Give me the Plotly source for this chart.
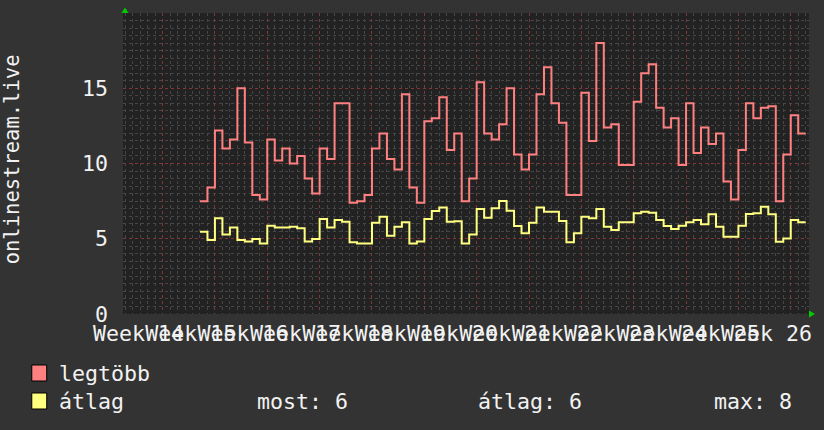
import plotly.graph_objects as go

# ---- data (daily values, day index relative to first major week line) ----
days = list(range(5, 86))
legtobb = [7.5, 8.4, 12.2, 11.0, 11.6, 15.0, 11.4, 7.9, 7.6, 11.6,
           10.2, 11.0, 10.0, 10.5, 9.0, 8.0, 11.0, 10.3, 14.0, 14.0,
           7.4, 7.5, 7.9, 11.0, 12.0, 10.3, 9.6, 14.6, 8.4, 7.4,
           12.8, 13.0, 14.4, 10.9, 12.0, 7.5, 9.0, 15.4, 12.0, 11.6,
           12.6, 15.0, 10.6, 9.6, 10.6, 14.6, 16.4, 14.0, 12.7, 7.9,
           7.9, 14.7, 11.5, 18.0, 12.4, 12.6, 9.9, 9.9, 14.1, 16.0,
           16.6, 13.7, 12.4, 13.0, 9.9, 14.0, 10.7, 12.4, 11.3, 12.0,
           8.8, 7.6, 10.9, 14.0, 13.0, 13.7, 13.8, 7.5, 10.6, 13.2, 12.0]
atlag = [5.47, 4.92, 6.36, 5.29, 5.74, 4.92, 4.81, 4.98, 4.69, 5.87,
         5.74, 5.74, 5.80, 5.69, 4.81, 4.98, 6.31, 5.74, 6.25, 6.13,
         4.76, 4.69, 4.69, 6.07, 6.47, 5.20, 5.80, 6.09, 4.69, 4.81,
         6.31, 6.84, 7.07, 6.13, 6.16, 4.69, 5.29, 6.98, 6.40, 7.02,
         7.51, 6.86, 5.85, 5.36, 6.07, 7.07, 6.80, 6.80, 6.18, 4.76,
         5.36, 6.47, 6.36, 6.98, 5.80, 5.58, 6.09, 6.09, 6.69, 6.80,
         6.73, 6.25, 5.85, 5.65, 5.87, 6.09, 6.25, 5.96, 6.62, 5.80,
         5.14, 5.14, 5.87, 6.64, 6.69, 7.13, 6.62, 4.80, 5.02, 6.25, 6.09]
week_labels = ["Week 14", "Week 15", "Week 16", "Week 17", "Week 18", "Week 19",
               "Week 20", "Week 21", "Week 22", "Week 23", "Week 24", "Week 25", "Week 26"]
y_ticks = [0, 5, 10, 15]
series_names = ["legtöbb", "átlag"]
series_colors = ["#FF8080", "#FFFF80"]
stats = ["most: 6", "átlag: 6", "max: 8"]

# ---- geometry ----
W, H = 824, 430
L, R, T, B = 123, 811, 13, 314
PW, PH = R - L, B - T
PX_PER_DAY = 7.5
X0PX = 162.7
xr = [(L - X0PX) / PX_PER_DAY, (R - X0PX) / PX_PER_DAY]
label_pos = [7 * i - 3.23 for i in range(len(week_labels))]

def px(x):
    return (x - L) / PW

def py(y):
    return (B - y) / PH

FONT = "DejaVu Sans Mono"
FS = 21.6
TXT = "#F2F2F2"
PAPER = "#333333"
PLOT = "#222222"
MINOR = "#464646"
MAJOR = "#803838"

fig = go.Figure()
for name, vals, col in zip(series_names, [legtobb, atlag], series_colors):
    xs = days + [days[-1] + 1]
    ys = vals + [vals[-1]]
    fig.add_trace(go.Scatter(x=xs, y=ys, mode="lines", line=dict(shape="hv", color=col, width=2),
                             name=name, hoverinfo="skip", showlegend=False))
# invisible trace for grid axis
fig.add_trace(go.Scatter(x=[xr[0]], y=[0], xaxis="x2", mode="markers",
                         marker=dict(opacity=0), showlegend=False, hoverinfo="skip"))

fig.update_layout(
    width=W, height=H,
    margin=dict(l=L, r=W - R, t=T, b=H - B),
    paper_bgcolor=PAPER, plot_bgcolor=PLOT,
    font=dict(family=FONT, size=FS, color=TXT),
    xaxis=dict(range=xr, tickmode="array", tickvals=label_pos, ticktext=week_labels,
               showgrid=False, zeroline=False, showline=False, ticks="",
               tickangle=0, ticklabeloverflow="allow",
               ticklabelstandoff=4, tickfont=dict(family=FONT, size=FS, color=TXT),
               fixedrange=True),
    xaxis2=dict(range=xr, overlaying="x", anchor="y", tick0=0, dtick=7,
                showgrid=True, gridcolor=MAJOR, griddash="dot", gridwidth=1,
                showticklabels=False, ticks="", zeroline=False, showline=False,
                minor=dict(dtick=1, tick0=0, showgrid=True, gridcolor=MINOR,
                           griddash="dot", gridwidth=1),
                layer="below traces"),
    yaxis=dict(range=[0, 20], tickmode="array", tickvals=y_ticks,
               ticktext=[str(v) for v in y_ticks],
               showgrid=True, gridcolor=MAJOR, griddash="dot", gridwidth=1,
               minor=dict(dtick=0.5, tick0=0, showgrid=True, gridcolor=MINOR,
                          griddash="dot", gridwidth=1),
               zeroline=False, showline=False, ticks="", ticklabelstandoff=14,
               tickfont=dict(family=FONT, size=FS, color=TXT), fixedrange=True),
)

anns = []
# y-axis title
anns.append(dict(text="onlinestream.live", x=px(12), y=py(159), xref="paper", yref="paper",
                 textangle=-90, showarrow=False, xanchor="center", yanchor="middle",
                 font=dict(family=FONT, size=20.5, color=TXT)))
# legend
shapes = []
leg_rows = [373, 401]
for (name, col, cy) in zip(series_names, series_colors, leg_rows):
    shapes.append(dict(type="rect", xref="paper", yref="paper",
                       x0=px(31.5), x1=px(46.5), y0=py(cy - 8), y1=py(cy + 8),
                       fillcolor=col, line=dict(color="#000000", width=1)))
    anns.append(dict(text=name, x=px(57), y=py(cy), xref="paper", yref="paper",
                     showarrow=False, xanchor="left", yanchor="middle",
                     font=dict(family=FONT, size=FS, color=TXT)))
for txt, xpx in zip(stats, [255, 477, 714]):
    anns.append(dict(text=txt, x=px(xpx), y=py(leg_rows[1]), xref="paper", yref="paper",
                     showarrow=False, xanchor="left", yanchor="middle",
                     font=dict(family=FONT, size=FS, color=TXT)))

# green axis arrows
up = "M {} {} L {} {} L {} {} Z".format(px(121.5), py(13), px(128.5), py(13), px(125), py(7.5))
rt = "M {} {} L {} {} L {} {} Z".format(px(811), py(310.5), px(811), py(317.5), px(817), py(314))
for p in (up, rt):
    shapes.append(dict(type="path", path=p, xref="paper", yref="paper",
                       fillcolor="#00CC00", line=dict(color="#00CC00", width=0)))

fig.update_layout(annotations=anns, shapes=shapes)
fig.write_html("out.html")
